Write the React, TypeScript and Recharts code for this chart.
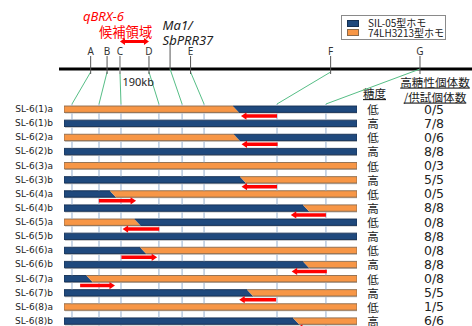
import React from 'react';
import { ComposedChart, Bar, XAxis, YAxis, ReferenceLine, Legend, Customized } from 'recharts';

// ---------------- data ----------------
const LINES = ['SL-6(1)a', 'SL-6(1)b', 'SL-6(2)a', 'SL-6(2)b', 'SL-6(3)a', 'SL-6(3)b', 'SL-6(4)a', 'SL-6(4)b',
  'SL-6(5)a', 'SL-6(5)b', 'SL-6(6)a', 'SL-6(6)b', 'SL-6(7)a', 'SL-6(7)b', 'SL-6(8)a', 'SL-6(8)b'];
// genotype of the left part / right part of each line (relative position 0-100 along the region)
const LEFT_GENO = ['LH', 'SIL', 'LH', 'SIL', 'LH', 'SIL', 'SIL', 'SIL', 'LH', 'SIL', 'SIL', 'SIL', 'SIL', 'SIL', 'LH', 'SIL'];
const RIGHT_GENO = ['SIL', 'SIL', 'SIL', 'SIL', 'LH', 'LH', 'LH', 'LH', 'SIL', 'SIL', 'LH', 'LH', 'LH', 'LH', 'LH', 'LH'];
const SWITCH_POS = [58.7, 100, 59.0, 100, 100, 61.1, 16.7, 82.6, 25.1, 100, 27.0, 82.6, 8.7, 63.5, 100, 79.2];
// red arrows (from marker toward recombination point)
const ARROW_FROM = [72.7, null, 72.9, null, null, 72.7, 11.9, 89.4, 32.5, null, 19.6, 89.7, 5.5, 72.4, null, 89.4];
const ARROW_TO = [60.4, null, 60.6, null, null, 60.6, 24.6, 77.4, 20.0, null, 31.8, 77.7, 17.4, 59.8, null, 79.5];
const SUGAR = ['低', '高', '低', '高', '低', '高', '低', '高', '低', '高', '低', '高', '低', '高', '低', '高'];
const HIGH_COUNT = ['0/5', '7/8', '0/6', '8/8', '0/3', '5/5', '0/5', '8/8', '0/8', '8/8', '0/8', '8/8', '0/8', '5/5', '1/5', '6/6'];

const MARKERS = ['A', 'B', 'C', 'D', 'Ma1/SbPRR37', 'E', 'F', 'G'];
const MARKER_MAP_POS = [9.1, 14.7, 19.1, 29.0, 36.2, 43.2, 91.0, 121.5];
const MARKER_BAR_POS = [2.73, 11.95, 19.45, 32.4, 40.3, 47.8, 72.7, 89.4];
const GENE_MARKER = 'Ma1/SbPRR37';
const CANDIDATE_FROM = 'C';
const CANDIDATE_TO = 'D';
const CANDIDATE_SIZE = '190kb';
const QTL_NAME = 'qBRX-6';
const QTL_CAPTION = '候補領域';
const GENO_NAMES: Record<string, string> = { SIL: 'SIL-05型ホモ', LH: '74LH3213型ホモ' };
const LEGEND_KEYS = ['SIL', 'LH'];
const HEAD_SUGAR = '糖度';
const HEAD_COUNT_1 = '高糖性個体数';
const HEAD_COUNT_2 = '/供試個体数';

// ---------------- style / layout ----------------
const W = 472;
const H = 330;
const PLOT_TOP = 102;
const PLOT_BOTTOM = 328;
const LEFT_AXIS_W = 64;
const RIGHT_AXIS_W = 115;
const COLORS: Record<string, string> = { SIL: '#1F497D', LH: '#F79646' };
const EDGES: Record<string, string> = { SIL: '#142f52', LH: '#8a6a4c' };
const BAR_SIZE = 6.4;
const SHADOW = 1.2;
const SLANT = 3;
const ARROW_DY = 7;
// vertical levels (px) of the schematic map above the rows
const MAP_Y = 69;
const MAP_X_START = -1.7;
const MAP_X_END = 140;
const TICK_TOP = 56;
const TICK_BOT = 74;
const GENE_TICK_TOP = 43;
const CONN_TOP = 72;
const CONN_BOT = 104;
const GUIDE_BOT = 332;
const CAND_Y = 41.5;
const KB_Y = 81;
const CJK = "'Noto Sans CJK JP', 'Noto Sans', sans-serif";
const SANS = "'Noto Sans', 'DejaVu Sans', sans-serif";

const rows = LINES.map((name, i) => ({
  name,
  left: SWITCH_POS[i],
  right: 100 - SWITCH_POS[i],
  lg: LEFT_GENO[i],
  rg: RIGHT_GENO[i],
}));

const Segment = (props: any) => {
  const { x, y, width, height, payload, side } = props;
  if (!(width > 0.01)) return null;
  const geno = side === 'left' ? payload.lg : payload.rg;
  const slantL = side === 'right';
  const slantR = side === 'left' && payload.right > 0;
  const s = SLANT;
  const tl = slantL ? x - s : x;
  const bl = slantL ? x + s : x;
  const tr = slantR ? x + width - s : x + width;
  const br = slantR ? x + width + s : x + width;
  const yb = y + height;
  let d = `M${tl},${y} L${tr},${y}`;
  d += slantR ? ` M${br},${yb}` : ` L${br},${yb}`;
  d += ` L${bl},${yb}`;
  if (!slantL) d += ` L${tl},${y}`;
  return (
    <g>
      <polygon points={`${tl + 1},${y + SHADOW} ${tr + 1},${y + SHADOW} ${br + 1},${yb + SHADOW} ${bl + 1},${yb + SHADOW}`} fill="#bdbdbd" />
      <polygon points={`${tl},${y} ${tr},${y} ${br},${yb} ${bl},${yb}`} fill={COLORS[geno]} />
      <path d={d} fill="none" stroke={EDGES[geno]} strokeWidth={0.9} />
    </g>
  );
};

const Arrow = (props: any) => {
  const { x1, y1, x2 } = props;
  const y = y1 + ARROW_DY;
  const dir = x2 > x1 ? 1 : -1;
  const hl = 5.5, hh = 3.6, sh = 1.7;
  const xb = x2 - dir * hl;
  const pts = [[x1, y - sh], [xb, y - sh], [xb, y - hh], [x2, y], [xb, y + hh], [xb, y + sh], [x1, y + sh]]
    .map((p) => p.join(',')).join(' ');
  return <polygon points={pts} fill="#FF0000" />;
};

// a line whose x ends come from the x scale, drawn at fixed vertical levels of the map schematic
const MapLine = (props: any) => {
  const { x1, x2, ya, yb, color, w } = props;
  return <line x1={x1} y1={ya} x2={x2} y2={yb} stroke={color} strokeWidth={w} />;
};

// vertical guide from a marker down through the rows, passing behind the bars
const GuideLine = (props: any) => {
  const { x1, y1, y2 } = props;
  const n = LINES.length;
  const step = (y2 - y1) / (n - 1);
  const half = BAR_SIZE / 2;
  const segs: number[][] = [];
  let start = CONN_BOT;
  for (let i = 0; i < n; i++) {
    const c = y1 + i * step;
    segs.push([start, c - half]);
    start = c + half + SHADOW;
  }
  segs.push([start, GUIDE_BOT]);
  return (
    <g>
      {segs.map((s, i) => <line key={i} x1={x1} x2={x1} y1={s[0]} y2={s[1]} stroke="#94AECD" strokeWidth={1} />)}
    </g>
  );
};

const DoubleArrow = (props: any) => {
  const { x1, x2 } = props;
  const y = CAND_Y;
  const hl = 5, hh = 3.6, sh = 1.6;
  const pts = [[x1, y], [x1 + hl, y - hh], [x1 + hl, y - sh], [x2 - hl, y - sh], [x2 - hl, y - hh], [x2, y],
    [x2 - hl, y + hh], [x2 - hl, y + sh], [x1 + hl, y + sh], [x1 + hl, y + hh]]
    .map((p) => p.join(',')).join(' ');
  return (
    <g>
      <polygon points={pts} fill="#FF0000" />
      <text x={x1 + 2.5} y={KB_Y} dominantBaseline="central" fontFamily={SANS} fontSize={11} fill="#222">{CANDIDATE_SIZE}</text>
    </g>
  );
};

const MarkerTick = (props: any) => {
  const { x1, label, gene } = props;
  const top = gene ? GENE_TICK_TOP : TICK_TOP;
  const bot = gene ? MAP_Y : TICK_BOT;
  return (
    <g>
      <line x1={x1} y1={top} x2={x1} y2={bot} stroke={label === 'C' ? '#a0a0a0' : '#555'} strokeWidth={label === 'C' ? 1.6 : 1} />
      {gene ? (
        <text fontFamily={SANS} fontStyle="italic" fontSize={13} fill="#222">
          <tspan x={x1 - 7.5} y={24.5} dominantBaseline="central">{label.split('/')[0] + '/'}</tspan>
          <tspan x={x1 - 7.5} y={39.5} dominantBaseline="central">{label.split('/')[1]}</tspan>
        </text>
      ) : (
        <text x={x1} y={top - 5} textAnchor="middle" dominantBaseline="central" fontFamily={SANS} fontSize={10} fill="#333">{label}</text>
      )}
    </g>
  );
};

const RowTick = (props: any) => {
  const { y, payload } = props;
  return (
    <text x={LEFT_AXIS_W - 11} y={y} textAnchor="end" dominantBaseline="central" fontFamily="'DejaVu Sans', sans-serif" fontSize={9} fill="#222">
      {payload.value}
    </text>
  );
};

const InfoTick = (props: any) => {
  const { x, y, payload } = props;
  const i = LINES.indexOf(payload.value);
  return (
    <g>
      <text x={x + 16} y={y} textAnchor="middle" dominantBaseline="central" fontFamily={CJK} fontSize={11.5} fill="#222">{SUGAR[i]}</text>
      <text x={x + 77} y={y} textAnchor="middle" dominantBaseline="central" fontFamily="'DejaVu Sans', sans-serif" fontSize={12.5} fill="#222">{HIGH_COUNT[i]}</text>
    </g>
  );
};

const Headers = () => (
  <g>
    <text x={83} y={16} dominantBaseline="central" fontFamily={SANS} fontStyle="italic" fontSize={13} fill="#FF0000">{QTL_NAME}</text>
    <text x={99} y={31} dominantBaseline="central" fontFamily={CJK} fontSize={13.3} fill="#FF0000">{QTL_CAPTION}</text>
    <text x={363} y={93} dominantBaseline="central" fontFamily={CJK} fontSize={11.5} fill="#222" style={{ textDecoration: 'underline' }}>{HEAD_SUGAR}</text>
    <text x={435} y={81.5} textAnchor="middle" dominantBaseline="central" fontFamily={CJK} fontSize={11.6} fill="#222" style={{ textDecoration: 'underline' }}>{HEAD_COUNT_1}</text>
    <text x={435} y={96.5} textAnchor="middle" dominantBaseline="central" fontFamily={CJK} fontSize={11.6} fill="#222" style={{ textDecoration: 'underline' }}>{HEAD_COUNT_2}</text>
  </g>
);

const LegendBox = () => (
  <div style={{ width: 105, height: 25, border: '1px solid #8a8a8a', boxSizing: 'border-box', background: '#fff', position: 'relative', fontFamily: CJK, fontSize: 10, color: '#222' }}>
    {LEGEND_KEYS.map((k, i) => (
      <div key={k} style={{ position: 'absolute', left: 0, top: 2 + i * 9.7, height: 10, display: 'flex', alignItems: 'center' }}>
        <span style={{ display: 'inline-block', marginLeft: 5, width: 10, height: 5, background: COLORS[k], border: `0.5px solid ${EDGES[k]}` }} />
        <span style={{ marginLeft: 9, lineHeight: '10px', whiteSpace: 'nowrap' }}>{GENO_NAMES[k]}</span>
      </div>
    ))}
  </div>
);

export default function App() {
  const cIdx = MARKERS.indexOf(CANDIDATE_FROM);
  const dIdx = MARKERS.indexOf(CANDIDATE_TO);
  const top = LINES[0];
  const last = LINES[LINES.length - 1];
  return (
    <div style={{ position: 'absolute', left: 0, top: 0, width: W, height: 326, overflow: 'hidden', background: '#fff' }}>
      <ComposedChart
        width={W}
        height={H}
        data={rows}
        layout="vertical"
        margin={{ top: PLOT_TOP, right: 0, bottom: H - PLOT_BOTTOM, left: 0 }}
        barCategoryGap={0}
      >
        <XAxis type="number" domain={[0, 100]} allowDataOverflow hide />
        <YAxis yAxisId="rows" orientation="left" type="category" dataKey="name" width={LEFT_AXIS_W} axisLine={false} tickLine={false}
          interval={0} tick={<RowTick />} />
        <YAxis yAxisId="info" orientation="right" type="category" dataKey="name" width={RIGHT_AXIS_W} axisLine={false}
          tickLine={false} tickSize={0} tickMargin={0} interval={0} tick={<InfoTick />} />

        {MARKER_BAR_POS.map((p, i) => (
          <ReferenceLine key={`g${i}`} yAxisId="rows" ifOverflow="visible"
            segment={[{ x: p, y: top }, { x: p, y: last }]}
            shape={(sp: any) => <GuideLine {...sp} />} />
        ))}

        <Bar yAxisId="rows" dataKey="left" stackId="g" barSize={BAR_SIZE} isAnimationActive={false}
          shape={(p: any) => <Segment {...p} side="left" />} />
        <Bar yAxisId="rows" dataKey="right" stackId="g" barSize={BAR_SIZE} isAnimationActive={false}
          shape={(p: any) => <Segment {...p} side="right" />} />

        {LINES.map((name, i) => (ARROW_FROM[i] == null ? null : (
          <ReferenceLine key={`a${i}`} yAxisId="rows" ifOverflow="visible"
            segment={[{ x: ARROW_FROM[i] as number, y: name }, { x: ARROW_TO[i] as number, y: name }]}
            shape={(p: any) => <Arrow {...p} />} />
        )))}

        <ReferenceLine yAxisId="rows" ifOverflow="visible"
          segment={[{ x: MAP_X_START, y: top }, { x: MAP_X_END, y: top }]}
          shape={(sp: any) => <MapLine {...sp} ya={MAP_Y} yb={MAP_Y} color="#000" w={3} />} />

        {MARKERS.map((m, i) => (
          <ReferenceLine key={`c${i}`} yAxisId="rows" ifOverflow="visible"
            segment={[{ x: MARKER_MAP_POS[i], y: top }, { x: MARKER_BAR_POS[i], y: top }]}
            shape={(sp: any) => <MapLine {...sp} ya={m === GENE_MARKER || m === 'G' ? MAP_Y : CONN_TOP} yb={CONN_BOT} color="#56BE86" w={1} />} />
        ))}

        {MARKERS.map((m, i) => (
          <ReferenceLine key={`t${i}`} yAxisId="rows" ifOverflow="visible"
            segment={[{ x: MARKER_MAP_POS[i], y: top }, { x: MARKER_MAP_POS[i], y: top }]}
            shape={(p: any) => <MarkerTick {...p} label={m} gene={m === GENE_MARKER} />} />
        ))}

        <ReferenceLine yAxisId="rows" ifOverflow="visible"
          segment={[{ x: MARKER_MAP_POS[cIdx], y: top }, { x: MARKER_MAP_POS[dIdx], y: top }]}
          shape={(p: any) => <DoubleArrow {...p} />} />

        <Customized component={Headers} />
        <Legend layout="horizontal" verticalAlign="middle" align="center"
          wrapperStyle={{ position: 'absolute', left: 341, top: 15, width: 105, height: 25, bottom: 'auto', right: 'auto' }}
          content={() => <LegendBox />} />
      </ComposedChart>
    </div>
  );
}
